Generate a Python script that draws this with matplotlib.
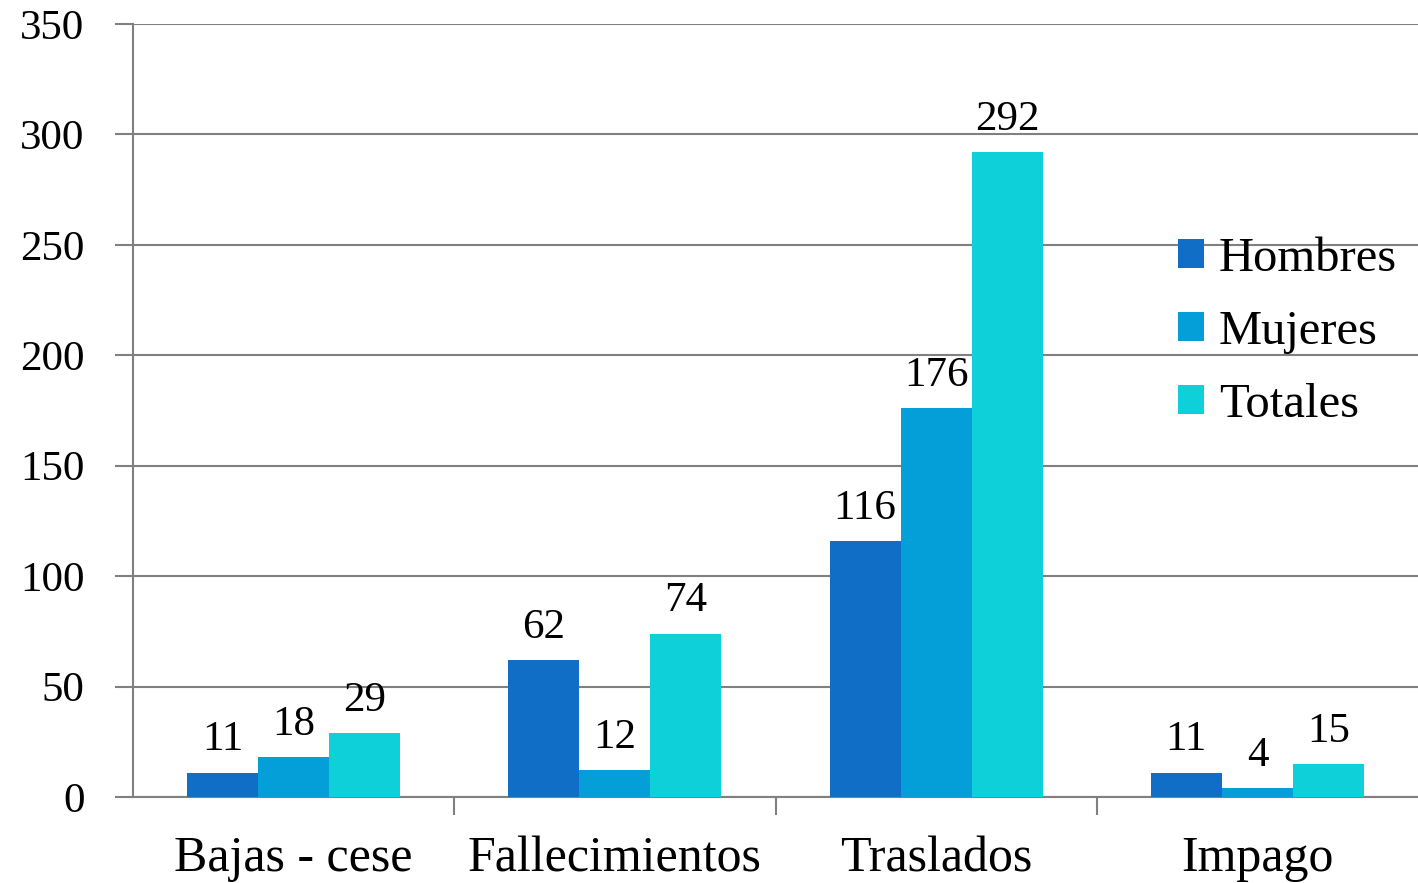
import matplotlib.pyplot as plt
import numpy as np

categories = ["Bajas - cese", "Fallecimientos", "Traslados", "Impago"]
hombres = [11, 62, 116, 11]
mujeres = [18, 12, 176, 4]
totales = [29, 74, 292, 15]
series_names = ["Hombres", "Mujeres", "Totales"]
colors = ["#106EC6", "#049FD8", "#0DD0D8"]

plt.rcParams['font.family'] = ['Liberation Serif', 'DejaVu Serif']

fig = plt.figure(figsize=(14.18, 8.83), dpi=100)
ax = fig.add_axes([0.0938, 0.0974, 0.9062, 0.8754])

x = np.arange(len(categories))
w = 0.221
for i, (vals, name, c) in enumerate(zip([hombres, mujeres, totales], series_names, colors)):
    pos = x + (i - 1) * w
    ax.bar(pos, vals, width=w, color=c, label=name, zorder=3)
    for p, v in zip(pos, vals):
        ax.text(p, v + 6, str(v), ha='center', va='bottom', fontsize=31, color='black')

ax.set_xlim(-0.5, 3.5)
ax.set_ylim(0, 350)
ax.set_yticks(range(0, 351, 50))
ax.tick_params(axis='y', labelsize=31, length=13, width=1.5, color='#808080', pad=22)
ax.grid(axis='y', color='#808080', linewidth=1.5, zorder=0)

ax.set_xticks(x)
ax.set_xticklabels(categories)
ax.tick_params(axis='x', which='major', length=0, labelsize=36, pad=28)
ax.set_xticks(np.arange(0.5, 3.5, 1), minor=True)
ax.tick_params(axis='x', which='minor', length=13, width=1.5, color='#808080')

for s in ['top', 'right']:
    ax.spines[s].set_visible(False)
for s in ['left', 'bottom']:
    ax.spines[s].set_color('#808080')
    ax.spines[s].set_linewidth(1.5)

ax.legend(loc='upper left', bbox_to_anchor=(0.813, 0.725), frameon=False, fontsize=35,
          handlelength=0.55, handleheight=0.55, handletextpad=0.3, labelspacing=0.6,
          borderaxespad=0, borderpad=0)

fig.savefig("out.png", dpi=100)
